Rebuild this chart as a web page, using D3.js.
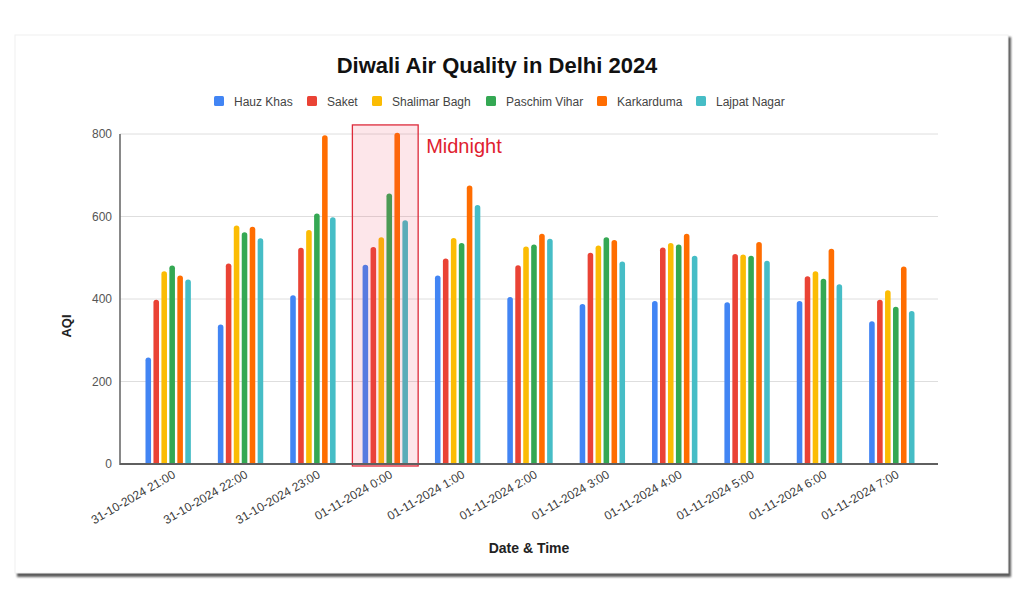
<!DOCTYPE html>
<html>
<head>
<meta charset="utf-8">
<script src="https://cdn.jsdelivr.net/npm/d3@7"></script>
<style>
  html, body { margin: 0; padding: 0; background: #fff; }
  svg { display: block; font-family: "Liberation Sans", Arial, sans-serif; }
</style>
</head>
<body>
<svg id="chart" width="1024" height="607"></svg>
<script>
const categories = ["31-10-2024 21:00", "31-10-2024 22:00", "31-10-2024 23:00", "01-11-2024 0:00",
  "01-11-2024 1:00", "01-11-2024 2:00", "01-11-2024 3:00", "01-11-2024 4:00",
  "01-11-2024 5:00", "01-11-2024 6:00", "01-11-2024 7:00"];
const seriesNames = ["Hauz Khas", "Saket", "Shalimar Bagh", "Paschim Vihar", "Karkarduma", "Lajpat Nagar"];
const seriesColors = ["#4285F4", "#EA4335", "#FBBC04", "#34A853", "#FF6D01", "#46BDC6"];
const hauzKhas     = [258, 338, 409, 483, 457, 405, 388, 395, 392, 395, 346];
const saket        = [398, 486, 524, 526, 498, 482, 512, 525, 509, 455, 398];
const shalimarBagh = [467, 578, 567, 550, 548, 527, 530, 536, 508, 467, 421];
const paschimVihar = [481, 562, 607, 656, 536, 532, 550, 532, 505, 449, 381];
const karkarduma   = [457, 575, 797, 803, 675, 558, 543, 558, 538, 522, 479];
const lajpatNagar  = [447, 547, 598, 591, 628, 546, 491, 505, 493, 436, 371];
const yTicks = [0, 200, 400, 600, 800];
const highlightCategory = "01-11-2024 0:00";
const highlightLabel = "Midnight";
const titleText = "Diwali Air Quality in Delhi 2024";
const xTitle = "Date & Time";
const yTitle = "AQI";

const seriesValues = [hauzKhas, saket, shalimarBagh, paschimVihar, karkarduma, lajpatNagar];

const svg = d3.select("#chart");
const plot = { left: 120, right: 938, top: 134, bottom: 464 };

// card with shadow
const defs = svg.append("defs");
const f = defs.append("filter").attr("id", "sh").attr("x", "-5%").attr("y", "-5%").attr("width", "110%").attr("height", "110%");
f.append("feGaussianBlur").attr("stdDeviation", 1.2);
defs.append("clipPath").attr("id", "plotclip").append("rect")
  .attr("x", plot.left).attr("y", 0).attr("width", plot.right - plot.left).attr("height", plot.bottom);

svg.append("rect").attr("x", 17).attr("y", 37).attr("width", 994).attr("height", 540)
  .attr("fill", "#5c5c5c").attr("filter", "url(#sh)");
svg.append("rect").attr("x", 15).attr("y", 35).attr("width", 993).attr("height", 538)
  .attr("fill", "#fff").attr("stroke", "#f0f0f0").attr("stroke-width", 1);

const y = d3.scaleLinear().domain([0, 800]).range([plot.bottom, plot.top]);
const x0 = d3.scaleBand().domain(categories).range([132, 928]).paddingInner(0.34).paddingOuter(0.17);
const x1 = d3.scaleBand().domain(seriesNames).range([0, x0.bandwidth()]).paddingInner(0.3).paddingOuter(0.15);

// gridlines
svg.append("g").selectAll("line").data(yTicks.filter(d => d > 0)).join("line")
  .attr("x1", plot.left).attr("x2", plot.right)
  .attr("y1", d => y(d)).attr("y2", d => y(d))
  .attr("stroke", "#dedede").attr("stroke-width", 1);

// bars
const groups = svg.append("g").attr("clip-path", "url(#plotclip)")
  .selectAll("g").data(categories).join("g")
  .attr("transform", c => `translate(${x0(c)},0)`);
groups.selectAll("rect").data((c, i) => seriesNames.map((s, j) => ({ s, j, v: seriesValues[j][i] })))
  .join("rect")
  .attr("x", d => x1(d.s))
  .attr("width", x1.bandwidth())
  .attr("y", d => y(d.v))
  .attr("height", d => y(0) - y(d.v) + 6)
  .attr("rx", x1.bandwidth() / 2)
  .attr("fill", d => seriesColors[d.j]);

// highlight
const hx = x0(highlightCategory);
svg.append("rect")
  .attr("x", hx - 9).attr("width", x0.bandwidth() + 18)
  .attr("y", y(822)).attr("height", y(0) - y(822) + 2)
  .attr("fill", "rgba(240,60,90,0.13)")
  .attr("stroke", "#dd2a3a").attr("stroke-width", 1.3);
svg.append("text").attr("x", hx + x0.bandwidth() + 17).attr("y", 153)
  .attr("fill", "#e0212f").attr("font-size", 20).text(highlightLabel);

// axes
const yAxis = d3.axisLeft(y).tickValues(yTicks).tickSize(0).tickPadding(8);
const yg = svg.append("g").attr("transform", `translate(${plot.left},0)`).call(yAxis);
yg.select(".domain").remove();
yg.selectAll("text").attr("font-size", 12).attr("fill", "#555").attr("font-family", "Liberation Sans, Arial, sans-serif");

const xAxis = d3.axisBottom(x0).tickSize(0).tickPadding(0);
const xg = svg.append("g").attr("transform", `translate(0,${plot.bottom})`).call(xAxis);
xg.select(".domain").remove();
xg.selectAll("text")
  .attr("font-size", 12).attr("fill", "#3a3a3a").attr("font-family", "Liberation Sans, Arial, sans-serif")
  .attr("text-anchor", "end")
  .attr("dy", null).attr("y", null)
  .attr("transform", "translate(8,13) rotate(-30)");

svg.append("line").attr("x1", plot.left).attr("x2", plot.left).attr("y1", plot.top).attr("y2", plot.bottom + 1)
  .attr("stroke", "#6b6b6b").attr("stroke-width", 1.6);
svg.append("line").attr("x1", plot.left).attr("x2", plot.right).attr("y1", plot.bottom).attr("y2", plot.bottom)
  .attr("stroke", "#5f5f5f").attr("stroke-width", 1.8);

// titles
svg.append("text").attr("x", 497).attr("y", 73).attr("text-anchor", "middle")
  .attr("font-size", 22).attr("font-weight", "bold").attr("fill", "#111").text(titleText);
svg.append("text").attr("x", 529).attr("y", 553).attr("text-anchor", "middle")
  .attr("font-size", 14).attr("font-weight", "bold").attr("fill", "#222").text(xTitle);
svg.append("text").attr("transform", "translate(71,326) rotate(-90)").attr("text-anchor", "middle")
  .attr("font-size", 13).attr("font-weight", "bold").attr("fill", "#222").text(yTitle);

// legend
const legendX = [214, 307, 372, 486, 597, 696];
const lg = svg.append("g").selectAll("g").data(seriesNames).join("g")
  .attr("transform", (d, i) => `translate(${legendX[i]},96)`);
lg.append("rect").attr("width", 10).attr("height", 10).attr("rx", 1.5).attr("fill", (d, i) => seriesColors[i]);
lg.append("text").attr("x", 20).attr("y", 9.5).attr("font-size", 12).attr("fill", "#444").text(d => d);
</script>
</body>
</html>
